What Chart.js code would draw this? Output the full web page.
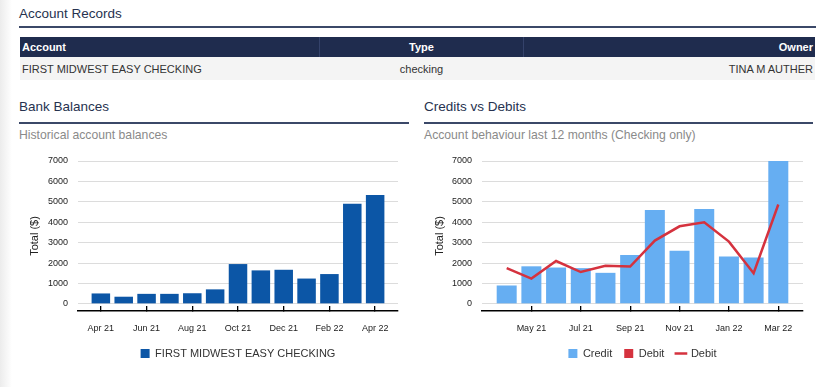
<!DOCTYPE html>
<html>
<head>
<meta charset="utf-8">
<script src="https://cdn.jsdelivr.net/npm/chart.js@4.4.1/dist/chart.umd.min.js"></script>
<style>
  body { margin: 0; width: 834px; height: 387px; overflow: hidden; position: relative;
         background: linear-gradient(to right, #ececec 0px, #ffffff 12px); font-family: "Liberation Sans", Arial, sans-serif; }
  .h { position: absolute; font-size: 13.5px; color: #26324f; line-height: 18px; }
  .rule { position: absolute; height: 2px; background: #3b4868; }
  .sub { position: absolute; font-size: 12.2px; color: #8a8a8a; line-height: 16px; }
  table { position: absolute; left: 20px; top: 37px; width: 795px; border-collapse: collapse; font-size: 11px; }
  th { background: #1f2c4e; color: #fff; font-weight: bold; height: 20px; padding: 0 2px; border-right: 1px solid #34426a; }
  th:last-child { border-right: none; }
  td { background: #f4f4f4; color: #333; height: 23px; padding: 0 2px; }
  canvas { position: absolute; }
</style>
</head>
<body>
<div class="h" style="left:19px;top:5px;">Account Records</div>
<div class="rule" style="left:19px;top:26px;width:797px;"></div>
<table>
  <tr><th style="text-align:left;width:295px;">Account</th><th style="text-align:center;width:199px;">Type</th><th style="text-align:right;">Owner</th></tr>
  <tr><td style="text-align:left;">FIRST MIDWEST EASY CHECKING</td><td style="text-align:center;">checking</td><td style="text-align:right;">TINA M AUTHER</td></tr>
</table>

<div class="h" style="left:19px;top:98px;">Bank Balances</div>
<div class="rule" style="left:19px;top:122px;width:390px;"></div>
<div class="sub" style="left:19px;top:127px;">Historical account balances</div>

<div class="h" style="left:424px;top:98px;">Credits vs Debits</div>
<div class="rule" style="left:424px;top:122px;width:389px;"></div>
<div class="sub" style="left:424px;top:127px;">Account behaviour last 12 months (Checking only)</div>

<canvas id="balChart" width="410" height="242" style="left:0;top:145px;"></canvas>
<canvas id="flowChart" width="424" height="242" style="left:410px;top:145px;"></canvas>

<script>
// balances, Apr 21 - Apr 22
const balMonths = ['Apr 21', 'May 21', 'Jun 21', 'Jul 21', 'Aug 21', 'Sep 21', 'Oct 21', 'Nov 21', 'Dec 21', 'Jan 22', 'Feb 22', 'Mar 22', 'Apr 22'];
const balances = [510, 350, 490, 490, 520, 710, 1950, 1640, 1670, 1240, 1460, 4900, 5330];
const balTicks = [0, 2, 4, 6, 8, 10, 12];

// credits / debits, Apr 21 - Mar 22
const flowMonths = ['Apr 21', 'May 21', 'Jun 21', 'Jul 21', 'Aug 21', 'Sep 21', 'Oct 21', 'Nov 21', 'Dec 21', 'Jan 22', 'Feb 22', 'Mar 22'];
const credits = [900, 1840, 1780, 1750, 1520, 2400, 4600, 2600, 4650, 2320, 2270, 7000];
const debits = [1750, 1240, 2100, 1560, 1870, 1830, 3100, 3800, 4000, 3050, 1500, 4870];
const flowTicks = [1, 3, 5, 7, 9, 11];

const yTicks = [0, 1000, 2000, 3000, 4000, 5000, 6000, 7000];

Chart.defaults.font.family = '"Liberation Sans", Arial, sans-serif';
Chart.defaults.color = '#222';

// center the legend under the plot area instead of the whole canvas
const legendUnderPlot = {
    id: 'legendUnderPlot',
    afterLayout(chart) {
        chart.legend.left = chart.chartArea.left;
        chart.legend.right = chart.chartArea.right;
    }
};

function toPoints(vals) {
    return vals.map((v, i) => ({ x: i, y: v }));
}

function makeScales(labels, tickIdx, yWidth) {
    return {
        x: {
            type: 'linear',
            offset: false,
            min: -1,
            max: labels.length,
            afterBuildTicks: s => { s.ticks = tickIdx.map(v => ({ value: v })); },
            afterFit: s => { s.height = 25; },
            ticks: { callback: v => labels[v], font: { size: 9 }, padding: 17, maxRotation: 0, autoSkip: false },
            grid: { drawOnChartArea: false, drawTicks: true, tickLength: -5, color: '#000', lineWidth: 1.3, offset: false },
            border: { display: true, color: '#000', width: 1.5 }
        },
        y: {
            min: -350,
            max: 7000,
            afterBuildTicks: s => { s.ticks = yTicks.map(v => ({ value: v })); },
            afterFit: s => { s.width = yWidth; },
            ticks: { font: { size: 9 }, padding: 10, callback: v => String(v) },
            grid: { color: '#dcdcdc', drawTicks: false },
            border: { display: false },
            title: { display: true, text: 'Total ($)', font: { size: 11 }, color: '#222' }
        }
    };
}

function legendOpts(pointStyle, sort) {
    return {
        position: 'bottom',
        labels: { boxWidth: 9, boxHeight: 9, font: { size: 11 }, color: '#333', padding: 12, usePointStyle: pointStyle, sort: sort }
    };
}

new Chart(document.getElementById('balChart'), {
    type: 'bar',
    data: {
        datasets: [{
            label: 'FIRST MIDWEST EASY CHECKING',
            data: toPoints(balances),
            backgroundColor: '#0c56a6',
            borderWidth: 0,
            barPercentage: 0.81,
            categoryPercentage: 1
        }]
    },
    options: {
        responsive: false,
        animation: false,
        layout: { padding: { left: 24, right: 12, top: 16, bottom: 18 } },
        scales: makeScales(balMonths, balTicks, 54),
        plugins: { legend: legendOpts(false), tooltip: { enabled: false } }
    },
    plugins: [legendUnderPlot]
});

// line first in the list so it draws on top; legend order fixed by sort
new Chart(document.getElementById('flowChart'), {
    type: 'bar',
    data: {
        datasets: [
            {
                type: 'line',
                label: 'Debit',
                data: toPoints(debits),
                borderColor: '#d5323e',
                borderWidth: 2.5,
                pointRadius: 0,
                pointStyle: 'line',
                tension: 0,
                order: 0
            },
            {
                label: 'Credit',
                data: toPoints(credits),
                backgroundColor: '#66aef2',
                borderWidth: 0,
                pointStyle: 'rect',
                grouped: false,
                barPercentage: 0.81,
                categoryPercentage: 1,
                order: 1
            },
            {
                label: 'Debit',
                data: [],
                backgroundColor: '#d5323e',
                borderWidth: 0,
                pointStyle: 'rect',
                grouped: false,
                order: 2
            }
        ]
    },
    options: {
        responsive: false,
        animation: false,
        layout: { padding: { left: 19, right: 31, top: 16, bottom: 18 } },
        scales: makeScales(flowMonths, flowTicks, 53),
        plugins: {
            legend: legendOpts(true, (a, b) => (a.datasetIndex === 0) - (b.datasetIndex === 0) || a.datasetIndex - b.datasetIndex),
            tooltip: { enabled: false }
        }
    },
    plugins: [legendUnderPlot]
});
</script>
</body>
</html>
